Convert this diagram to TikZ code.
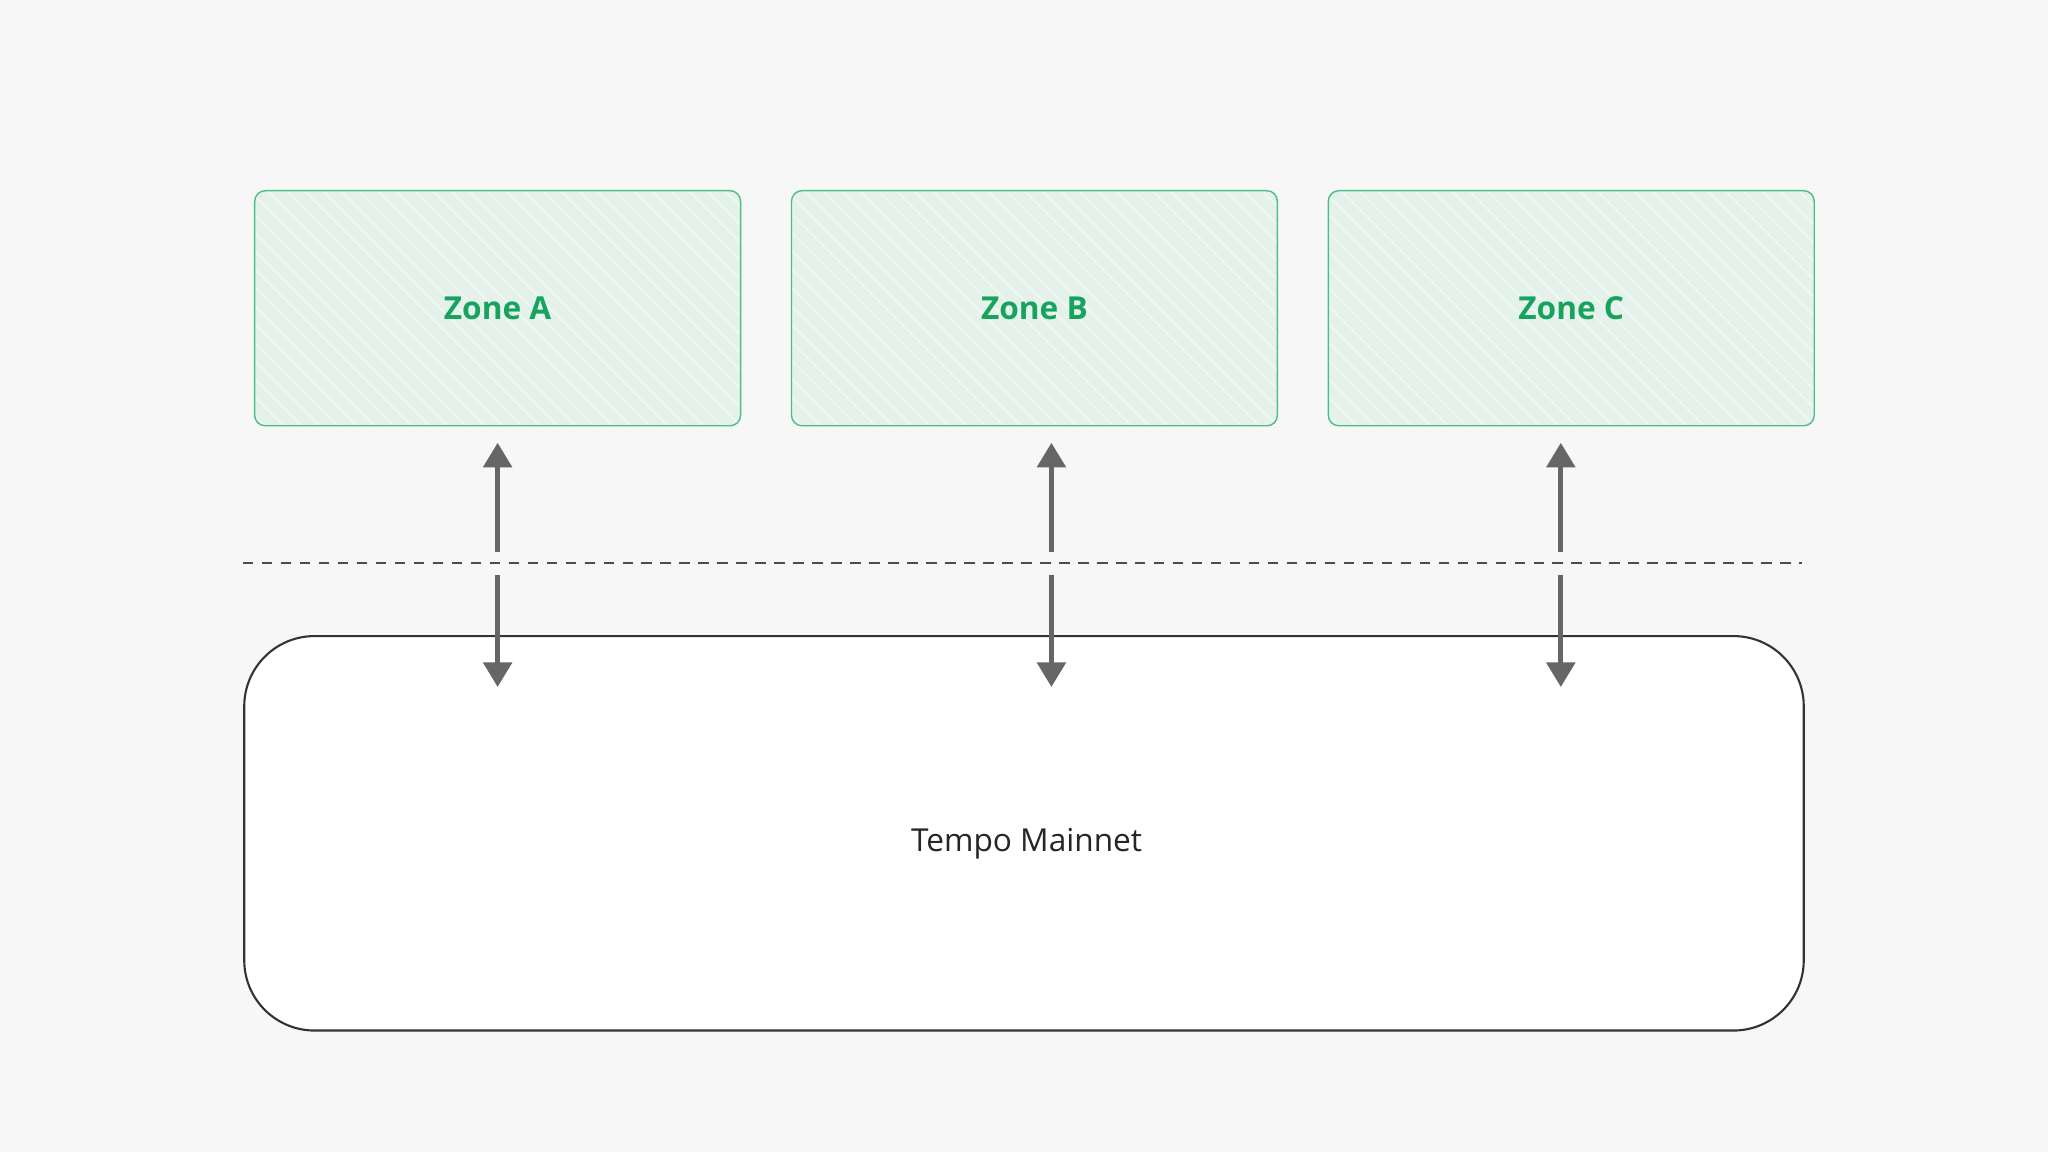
\documentclass[tikz,border=0pt]{standalone}
\usepackage{fontspec}
\setmainfont{Open Sans}
\usetikzlibrary{positioning, arrows.meta, calc}
\definecolor{bg-gray}{HTML}{F7F7F7}
\definecolor{zone-fill}{HTML}{E5F2EB}
\definecolor{zone-line}{HTML}{4CBF85}
\definecolor{zone-text}{HTML}{17A35E}
\definecolor{arrow-gray}{HTML}{666666}
\begin{document}
\begin{tikzpicture}[x=0.013061cm, y=-0.013061cm,
  zone/.style={draw=zone-line, fill=zone-fill, rounded corners=3pt, minimum width=372*0.013061cm, minimum height=180*0.013061cm, text=zone-text, font=\fontsize{9}{11}\selectfont\bfseries, inner sep=0,
    path picture={\foreach \i in {-200,-186,...,400}
      \draw[white, opacity=0.5, line width=0.4pt] ($(path picture bounding box.north west)+(\i,0)$) -- ++(190,190);}},
  link/.style={arrow-gray, line width=1.5pt, -{Triangle[length=7pt, width=8pt]}}]
\fill[bg-gray] (0,0) rectangle (1568,882);
\useasboundingbox (0,0) rectangle (1568,882);
\node[zone] (zoneA) at (381,236) {Zone A};
\node[zone] (zoneB) at (792,236) {Zone B};
\node[zone] (zoneC) at (1203,236) {Zone C};
\node[draw=black!80, fill=white, rounded corners=20pt, line width=0.6pt, minimum width=1194*0.013061cm, minimum height=302*0.013061cm] (mainnet) at (784,638) {};
\node[font=\fontsize{9}{11}\selectfont, text=black!85] (mainnetlabel) at (786,646) {Tempo Mainnet};
\coordinate (dashL) at (186,431);
\coordinate (dashR) at (1380,431);
\draw[black!70, dash pattern=on 3pt off 2.4pt, line width=0.5pt] (dashL) -- (dashR);
\foreach \n/\x in {a/381, b/805, c/1195}{
  \coordinate (\n up) at (\x,423);
  \coordinate (\n top) at (\x,339);
  \coordinate (\n down) at (\x,440);
  \coordinate (\n bot) at (\x,526);
  \draw[link] (\n up) -- (\n top);
  \draw[link] (\n down) -- (\n bot);
}
\end{tikzpicture}
\end{document}
